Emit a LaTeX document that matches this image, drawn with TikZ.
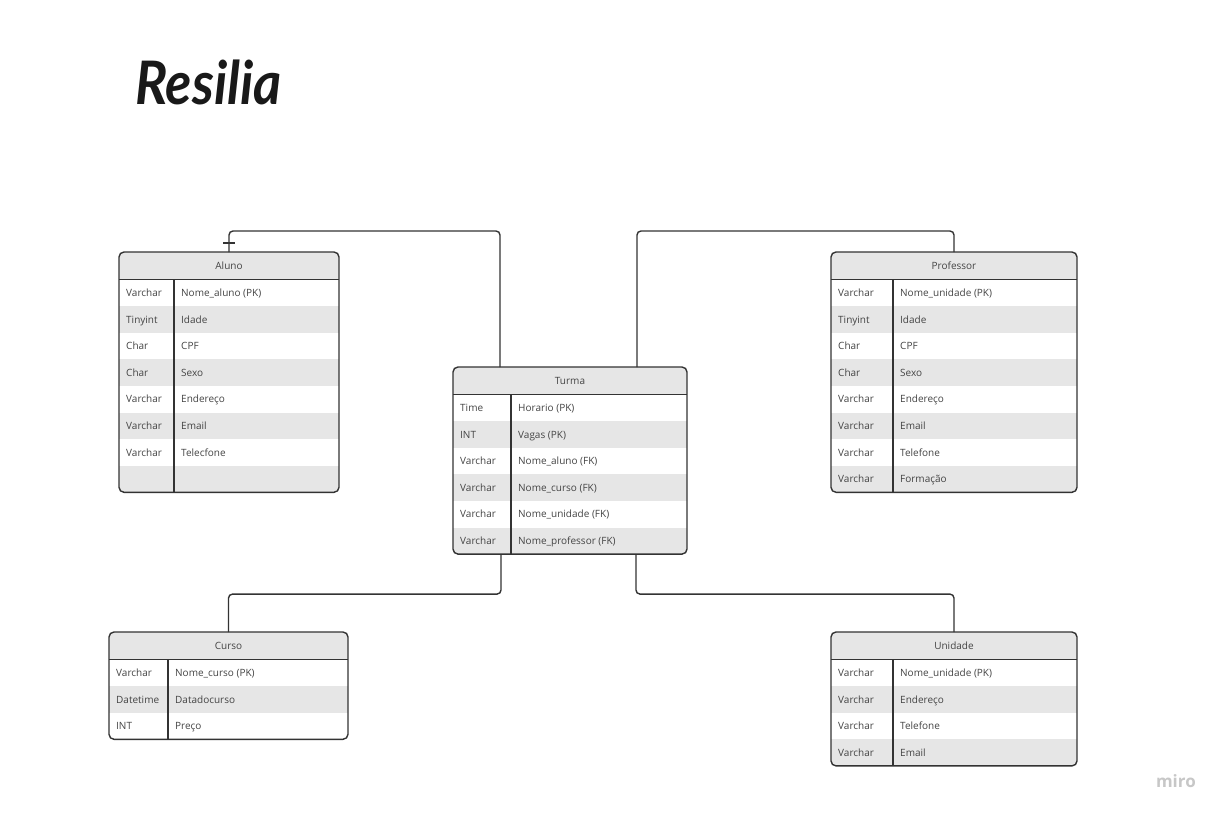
\documentclass[tikz,border=0pt]{standalone}
\usepackage{fontspec}
\setmainfont{Open Sans}
\newfontfamily\titlefont{Lato}
\usetikzlibrary{calc}
\definecolor{ink}{HTML}{333333}
\definecolor{rowgray}{HTML}{E6E6E6}
\definecolor{txt}{HTML}{444444}
\tikzset{
  conn/.style={draw=ink, line width=1.4pt, rounded corners=4pt},
  tabborder/.style={draw=ink, line width=1.4pt, rounded corners=5pt},
  tabline/.style={draw=ink, line width=1.4pt},
  cell/.style={font=\fontsize{10}{12}\selectfont, text=txt, anchor=base west, inner sep=0pt},
  hdrtext/.style={font=\fontsize{10}{12}\selectfont, text=txt, anchor=base, inner sep=0pt},
  anchorbox/.style={inner sep=0pt, outer sep=0pt, draw=none},
}
\newcommand{\ertab}[8]{%
  \pgfmathsetmacro{\ertHB}{#3+27.5}%
  \pgfmathsetmacro{\ertBT}{\ertHB+26.6*#7}%
  \pgfmathsetmacro{\ertW}{#4-#2}%
  \pgfmathsetmacro{\ertH}{\ertBT-#3}%
  \begin{scope}
    \clip[rounded corners=5pt] (#2,#3) rectangle (#4,\ertBT);
    \fill[white] (#2,#3) rectangle (#4,\ertBT);
    \fill[rowgray] (#2,#3) rectangle (#4,\ertHB);
    \foreach \k in {1,...,#7} {
      \ifodd\k\relax\else
        \fill[rowgray] (#2,{\ertHB+26.6*(\k-1)}) rectangle (#4,{\ertHB+26.6*\k});
      \fi
    }
  \end{scope}
  \node[anchorbox, minimum width=\ertW pt, minimum height=\ertH pt] (#1) at ({(#2+#4)/2},{(#3+\ertBT)/2}) {};
  \draw[tabborder] (#2,#3) rectangle (#4,\ertBT);
  \draw[tabline] (#2,\ertHB) -- (#4,\ertHB);
  \draw[tabline] (#5,\ertHB) -- (#5,\ertBT);
  \node[hdrtext] (#1-title) at ({(#2+#4)/2},{#3+13.75+3.6}) {#6};
  \foreach \ty/\nm [count=\i] in {#8} {
    \node[cell] (#1-t\i) at ({#2+7},{\ertHB+26.6*(\i-0.5)+3.6}) {\ty};
    \node[cell] (#1-n\i) at ({#5+7},{\ertHB+26.6*(\i-0.5)+3.6}) {\nm};
  }
}
\begin{document}
\begin{tikzpicture}[x=1pt,y=-1pt]
\fill[white] (0,0) rectangle (1224,816);
\useasboundingbox (0,0) rectangle (1224,816);

\node[anchor=base west, inner sep=0pt, font=\titlefont\bfseries\itshape\fontsize{60}{60}\selectfont, xscale=0.9, text=black!90] (title) at (135,104) {Resilia};

\ertab{aluno}{119}{252}{339}{174}{Aluno}{8}{Varchar/Nome\_aluno (PK), Tinyint/Idade, Char/CPF, Char/Sexo, Varchar/Endereço, Varchar/Email, Varchar/Telecfone}
\ertab{turma}{453}{367}{687}{511}{Turma}{6}{Time/Horario (PK), INT/Vagas (PK), Varchar/Nome\_aluno (FK), Varchar/Nome\_curso (FK), Varchar/Nome\_unidade (FK), Varchar/Nome\_professor (FK)}
\ertab{professor}{831}{252}{1077}{893}{Professor}{8}{Varchar/Nome\_unidade (PK), Tinyint/Idade, Char/CPF, Char/Sexo, Varchar/Endereço, Varchar/Email, Varchar/Telefone, Varchar/Formação}
\ertab{curso}{109}{632}{348}{168}{Curso}{3}{Varchar/Nome\_curso (PK), Datetime/Datadocurso, INT/Preço}
\ertab{unidade}{831}{632}{1077}{893}{Unidade}{4}{Varchar/Nome\_unidade (PK), Varchar/Endereço, Varchar/Telefone, Varchar/Email}

\coordinate (t1) at ($(turma.north west)+(47,0)$);
\coordinate (t2) at ($(turma.north west)+(184,0)$);
\coordinate (b1) at ($(turma.south west)+(48,0)$);
\coordinate (b2) at ($(turma.south west)+(183,0)$);

\draw[conn] (aluno.north) -- ++(0,-21) -| (t1);
\draw[conn] ($(aluno.north)+(-6,-9)$) -- ++(12,0);
\draw[conn] (t2) |- ($(professor.north)+(0,-21)$) -- (professor.north);
\draw[conn] (b1) -- ++(0,40) -| (curso.north);
\draw[conn] (b2) -- ++(0,40) -| (unidade.north);

\node[anchor=base east, inner sep=0pt, font=\bfseries\fontsize{17}{17}\selectfont, text=black!22] (miro) at (1196,787) {miro};
\end{tikzpicture}
\end{document}
